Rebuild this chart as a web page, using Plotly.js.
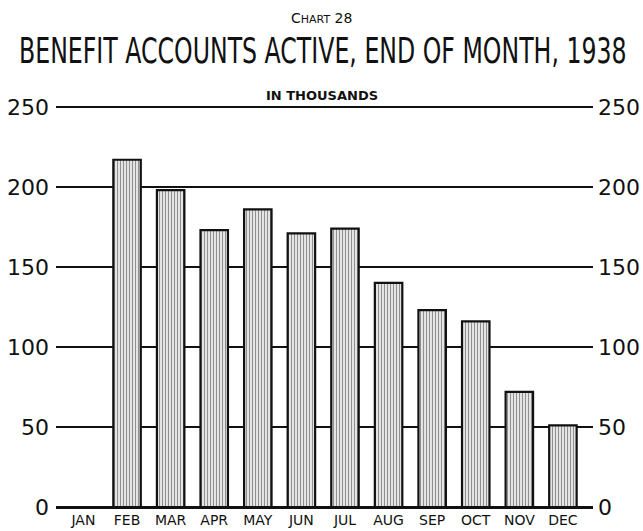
<!DOCTYPE html>
<html>
<head>
<meta charset="utf-8">
<script src="https://cdn.plot.ly/plotly-3.0.1.min.js"></script>
<style>
html,body{margin:0;padding:0;background:#fff;}
#chart{width:643px;height:531px;}
</style>
</head>
<body>
<div id="chart"></div>
<script>
// ---- data ----
const months = ["JAN","FEB","MAR","APR","MAY","JUN","JUL","AUG","SEP","OCT","NOV","DEC"];
const accounts = [0, 217, 198, 173, 186, 171, 174, 140, 123, 116, 72, 51]; // thousands
const yTicks = [0, 50, 100, 150, 200, 250];
const titleText = "BENEFIT ACCOUNTS ACTIVE, END OF MONTH, 1938";
const chartLabel = "C<span style='font-size:11px'>HART</span> 28";
const unitLabel = "IN THOUSANDS";

const ink = "#111";

const data = [
  {
    type: "bar",
    x: months,
    y: accounts,
    marker: {
      color: "#ffffff",
      line: {color: ink, width: 2.2},
      pattern: {shape: "|", size: 3, solidity: 0.5, fgcolor: "#222", bgcolor: "#ffffff", fillmode: "overlay"}
    },
    hoverinfo: "x+y",
    showlegend: false
  },
  {
    type: "scatter",
    mode: "markers",
    x: months,
    y: accounts,
    yaxis: "y2",
    marker: {opacity: 0, size: 1},
    hoverinfo: "skip",
    showlegend: false
  }
];

const tickFont = {family: "DejaVu Sans", size: 22, color: ink};

const layout = {
  width: 643, height: 531,
  margin: {l: 56, r: 50, t: 105, b: 24, pad: 0},
  paper_bgcolor: "#ffffff",
  plot_bgcolor: "#ffffff",
  bargap: 0.37,
  barmode: "overlay",
  title: {
    text: titleText,
    font: {family: "DejaVu Sans Condensed", size: 26.3, color: ink},
    xref: "container", x: 0.502, xanchor: "center",
    yref: "container", y: 1 - 63/531, yanchor: "bottom"
  },
  xaxis: {
    type: "category",
    categoryorder: "array",
    categoryarray: months,
    range: [-0.63, 11.69],
    showgrid: false,
    zeroline: false,
    showline: false,
    ticks: "",
    tickfont: {family: "DejaVu Sans", size: 14, color: ink},
    ticklabelstandoff: 3,
    automargin: false,
    fixedrange: true
  },
  yaxis: {
    range: [0, 251.2],
    tickvals: yTicks,
    ticktext: yTicks.map(String),
    showgrid: true,
    gridcolor: ink,
    gridwidth: 1.5,
    zeroline: true,
    zerolinecolor: ink,
    zerolinewidth: 3,
    showline: false,
    ticks: "",
    tickfont: tickFont,
    ticklabelstandoff: 6,
    automargin: false,
    fixedrange: true
  },
  yaxis2: {
    overlaying: "y",
    side: "right",
    range: [0, 251.2],
    tickvals: yTicks,
    ticktext: yTicks.map(String),
    showgrid: false,
    zeroline: false,
    showline: false,
    ticks: "",
    tickfont: tickFont,
    ticklabelstandoff: 4,
    automargin: false,
    fixedrange: true
  },
  annotations: [
    {
      text: chartLabel, showarrow: false,
      xref: "paper", yref: "paper",
      x: (321 - 56) / 537, y: (507 - 18) / 402,
      xanchor: "center", yanchor: "middle",
      font: {family: "DejaVu Sans", size: 14, color: ink}
    },
    {
      text: "<b>" + unitLabel + "</b>", showarrow: false,
      xref: "paper", yref: "paper",
      x: (322 - 56) / 537, y: (507 - 95) / 402,
      xanchor: "center", yanchor: "middle",
      font: {family: "DejaVu Sans", size: 13, color: ink}
    }
  ]
};

Plotly.newPlot("chart", data, layout, {displayModeBar: false}).then(function (gd) {
  // Stretch the condensed title vertically (scaled about its baseline), as in the printed original.
  const t = gd.querySelector(".gtitle");
  if (t) {
    const S = 1.34;
    const y = parseFloat(t.getAttribute("y"));
    t.setAttribute("transform", "translate(0 " + (y * (1 - S)) + ") scale(1 " + S + ")");
  }
});
</script>
</body>
</html>
